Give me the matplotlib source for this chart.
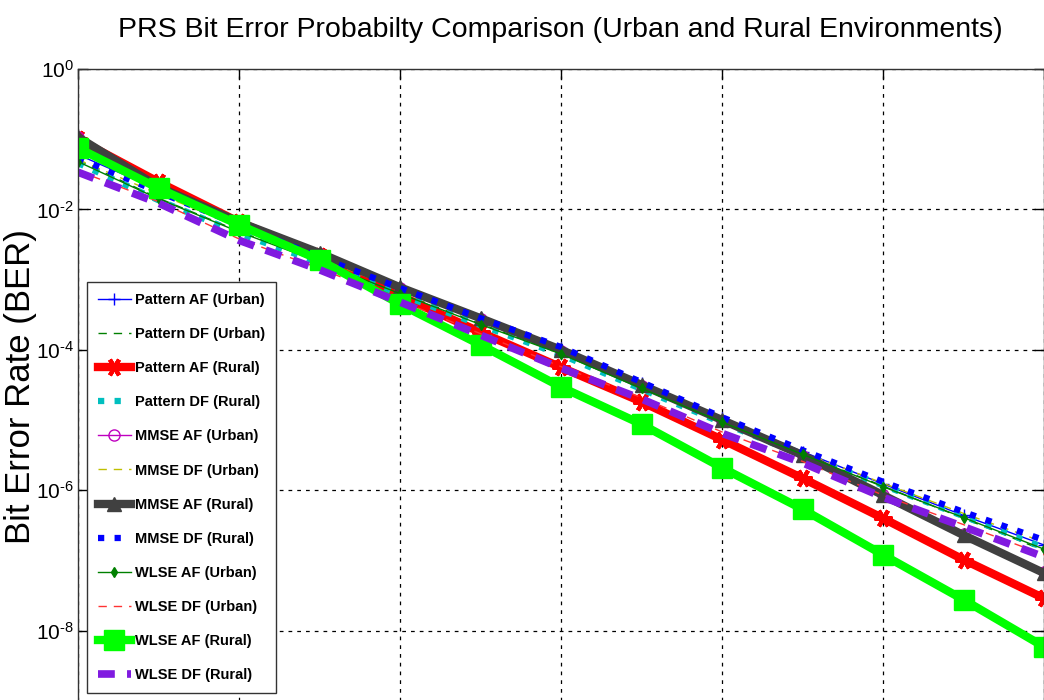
import matplotlib
matplotlib.use("Agg")
import matplotlib.pyplot as plt
import numpy as np

# ---------------- data ----------------
snr = [0, 2, 4, 6, 8, 10, 12, 14, 16, 18, 20, 22, 24]

# log10(BER) values
pattern_af_urban = [-1.22, -1.72, -2.20, -2.66, -3.11, -3.55, -3.97, -4.47, -4.97, -5.45, -5.91, -6.36, -6.78]
pattern_df_urban = [-1.30, -1.84, -2.31, -2.74, -3.19, -3.63, -4.05, -4.55, -5.03, -5.49, -5.94, -6.40, -6.86]
pattern_af_rural = [-1.00, -1.61, -2.18, -2.66, -3.23, -3.75, -4.25, -4.74, -5.28, -5.83, -6.40, -6.99, -7.54]
pattern_df_rural = [-1.34, -1.87, -2.34, -2.76, -3.21, -3.65, -4.07, -4.56, -5.04, -5.50, -5.93, -6.37, -6.82]
mmse_af_urban = [-0.97, -1.69, -2.19, -2.63, -3.12, -3.56, -4.01, -4.51, -5.01, -5.51, -6.07, -6.63, -7.16]
mmse_df_urban = [-1.29, -1.78, -2.25, -2.70, -3.14, -3.58, -4.00, -4.49, -4.99, -5.46, -5.90, -6.33, -6.74]
mmse_af_rural = [-0.97, -1.68, -2.18, -2.62, -3.11, -3.55, -4.00, -4.50, -5.00, -5.50, -6.07, -6.64, -7.18]
mmse_df_rural = [-1.27, -1.75, -2.22, -2.68, -3.12, -3.55, -3.96, -4.46, -4.96, -5.43, -5.88, -6.31, -6.71]
wlse_af_urban = [-1.32, -1.85, -2.32, -2.75, -3.20, -3.64, -4.06, -4.55, -5.03, -5.49, -5.95, -6.39, -6.84]
wlse_df_urban = [-1.45, -1.89, -2.42, -2.84, -3.30, -3.77, -4.24, -4.68, -5.17, -5.59, -6.07, -6.49, -6.92]
wlse_af_rural = [-1.125, -1.70, -2.22, -2.72, -3.35, -3.93, -4.53, -5.06, -5.68, -6.27, -6.92, -7.56, -8.23]
wlse_df_rural = [-1.47, -1.91, -2.44, -2.86, -3.32, -3.79, -4.26, -4.70, -5.19, -5.61, -6.10, -6.52, -6.95]

labels = ["Pattern AF (Urban)", "Pattern DF (Urban)", "Pattern AF (Rural)", "Pattern DF (Rural)",
          "MMSE AF (Urban)", "MMSE DF (Urban)", "MMSE AF (Rural)", "MMSE DF (Rural)",
          "WLSE AF (Urban)", "WLSE DF (Urban)", "WLSE AF (Rural)", "WLSE DF (Rural)"]
series = [pattern_af_urban, pattern_df_urban, pattern_af_rural, pattern_df_rural,
          mmse_af_urban, mmse_df_urban, mmse_af_rural, mmse_df_rural,
          wlse_af_urban, wlse_df_urban, wlse_af_rural, wlse_df_rural]

ytick_exps = ["0", "-2", "-4", "-6", "-8"]
title = "PRS Bit Error Probabilty Comparison (Urban and Rural Environments)"
ylabel = "Bit Error Rate (BER)"

# ---------------- fonts ----------------
plt.rcParams['font.family'] = ['Liberation Sans', 'DejaVu Sans']
plt.rcParams['mathtext.fontset'] = 'custom'
plt.rcParams['mathtext.rm'] = 'Liberation Sans'
plt.rcParams['mathtext.it'] = 'Liberation Sans'

# ---------------- styles ----------------
styles = [
    dict(color=(0, 0, 1), ls='-', lw=1.0, marker='+', ms=9, mew=1.0),
    dict(color=(0, 0.5, 0), ls=(0, (6, 5)), lw=1.0),
    dict(color=(1, 0, 0), ls='-', lw=6, marker=(6, 2, 90), ms=13, mew=3),
    dict(color=(0, 0.75, 0.75), ls=':', lw=4.5),
    dict(color=(0.75, 0, 0.75), ls='-', lw=1.0, marker='o', ms=8, mfc='none'),
    dict(color=(0.75, 0.75, 0), ls=(0, (6, 5)), lw=1.0),
    dict(color=(0.25, 0.25, 0.25), ls='-', lw=6, marker='^', ms=10),
    dict(color=(0, 0, 1), ls=':', lw=4.5),
    dict(color=(0, 0.5, 0), ls='-', lw=1.0, marker='d', ms=5),
    dict(color=(1, 0.2, 0.2), ls=(0, (6, 5)), lw=1.0),
    dict(color=(0, 1, 0), ls='-', lw=6, marker='s', ms=14),
    dict(color=(0.5, 0.1, 0.88), ls=(0, (2.2, 1.6)), lw=5.5),
]

# ---------------- figure ----------------
W, H = 1044, 700
fig = plt.figure(figsize=(W / 100, H / 100), dpi=100)
left_px, right_px, top_px, bot_px = 78, 1044, 69, 771
ax = fig.add_axes([left_px / W, (H - bot_px) / H, (right_px - left_px) / W, (bot_px - top_px) / H])

for vals, lab, st in zip(series, labels, styles):
    ax.semilogy(snr, 10.0 ** np.array(vals), label=lab, **st)

ax.set_xlim(0, 24)
ax.set_ylim(1e-10, 1e0)
ax.set_xticks(range(0, 25, 4))
ax.set_yticks([10.0 ** int(e) for e in ytick_exps])
ax.set_yticklabels([r'$10^{\text{%s}}$' % e for e in ytick_exps], fontsize=15)
ax.minorticks_off()
ax.tick_params(direction='in', length=7, width=1, top=True, right=True, which='major',
               labelbottom=False, pad=3)
ax.grid(True, which='major', color='black', ls=(0, (3, 4)), lw=0.9)
for sp in ax.spines.values():
    sp.set_linewidth(1.0)
    sp.set_color('#333333')

ax.set_ylabel(ylabel, fontsize=25)
ax.yaxis.set_label_coords(-0.042, 0.547)
fig.text(0.537, 1 - 30 / H, title, ha='center', va='center', fontsize=20.5)

leg = ax.legend(loc='upper left', bbox_to_anchor=((87 - left_px) / (right_px - left_px),
                                                  (bot_px - 282) / (bot_px - top_px)),
                prop={'family': ['Liberation Sans', 'DejaVu Sans'], 'weight': 'bold', 'size': 10.5},
                frameon=True, fancybox=False, edgecolor='#333333', framealpha=1,
                borderpad=0.75, labelspacing=1.38, handlelength=2.25, handletextpad=0.3,
                borderaxespad=0)
leg.get_frame().set_linewidth(1.0)

fig.savefig("out.png", dpi=100)
